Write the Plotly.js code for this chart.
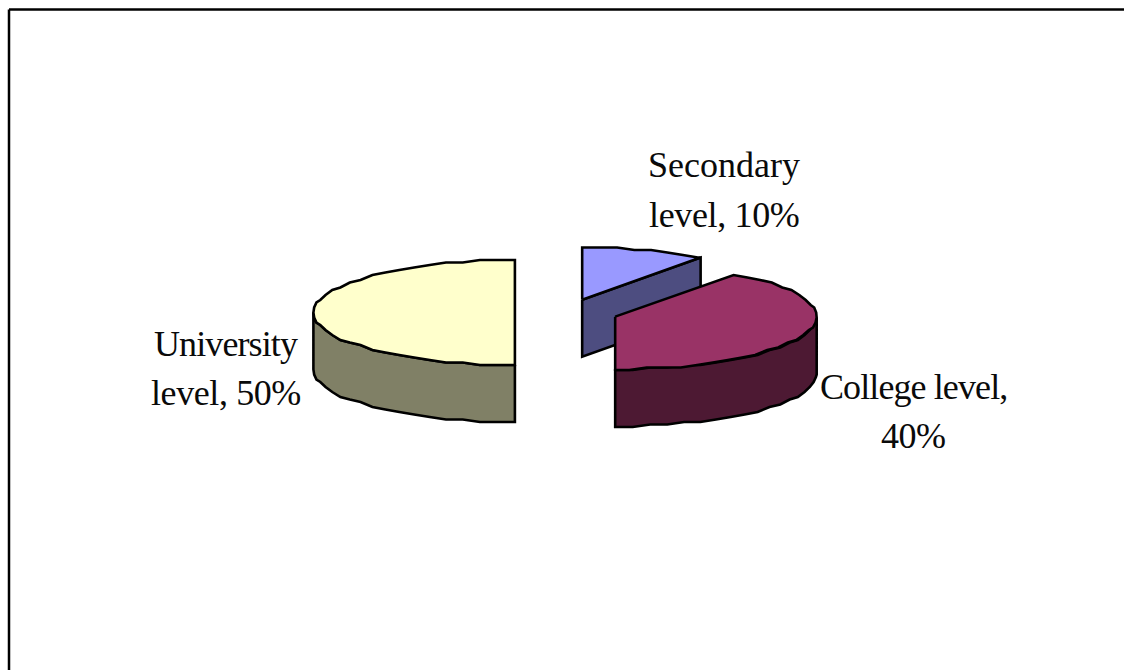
<!DOCTYPE html>
<html>
<head>
<meta charset="utf-8">
<script src="https://cdn.plot.ly/plotly-3.0.1.min.js"></script>
<style>html,body{margin:0;padding:0;background:#fff}#chart{width:1124px;height:670px}</style>
</head>
<body>
<div id="chart"></div>
<script>
// Education level shares, in the order they run clockwise from twelve o'clock.
const categories = ["Secondary level", "College level", "University level"];
const shares = [10, 40, 50];
const labelBreakAfterWord = [1, 2, 1];

const topColors = ["#9999FF", "#993366", "#FFFFCC"];
const sideColors = ["#4D4D80", "#4D1933", "#808066"];
const labelCenters = [[724, 165, 215], [913, 387, 436], [226, 344, 393]];
const labelTracking = [[0, -0.35], [-0.9, -0.5], [-0.9, -0.4]];

// Projection of the tilted, exploded pie onto the page.
const pie = {cx: 566.3, cy: 312.5, rx: 201.5, ry: 52.5, depth: 57, explode: 51.4, stepDeg: 5, gridY: 2.5};
const INK = "#000000";

const rad = d => d * Math.PI / 180;
const total = shares.reduce((a, b) => a + b, 0);

function rimPoint(c, deg, drop) {
  const x = c.x + pie.rx * Math.sin(rad(deg));
  const y = c.y - pie.ry * Math.cos(rad(deg));
  return [x, Math.round(y / pie.gridY) * pie.gridY + drop];
}

function arc(c, from, to, drop) {
  const pts = [];
  for (let d = from; d < to - 1e-6; d += pie.stepDeg) pts.push(rimPoint(c, d, drop));
  pts.push(rimPoint(c, to, drop));
  return pts;
}

function polygon(pts, fill) {
  return {
    type: "scatter", mode: "lines", fill: "toself", fillcolor: fill,
    x: pts.map(p => p[0]), y: pts.map(p => p[1]),
    line: {color: INK, width: 2.6, shape: "linear", simplify: false},
    hoverinfo: "skip", showlegend: false
  };
}

const traces = [];
let start = 0;
shares.forEach((share, i) => {
  const sweep = share / total * 360;
  const end = start + sweep;
  const mid = rad(start + sweep / 2);
  const c = {
    x: pie.cx + pie.explode * Math.sin(mid),
    y: pie.cy - pie.explode * (pie.ry / pie.rx) * Math.cos(mid)
  };
  const apex = [c.x, c.y];
  const apexLow = [c.x, c.y + pie.depth];

  // Sides that face the viewer: the outer wall and, where it shows, the cut faces.
  if (start < 90 && end <= 90) {
    const rim = rimPoint(c, end, 0);
    traces.push(polygon([apex, rim, [rim[0], rim[1] + pie.depth], apexLow, apex], sideColors[i]));
  }
  const wallFrom = Math.max(start, 90), wallTo = Math.min(end, 270);
  if (wallTo > wallFrom) {
    const upper = arc(c, wallFrom, wallTo, 0);
    const lower = arc(c, wallFrom, wallTo, pie.depth).reverse();
    traces.push(polygon(upper.concat(lower, [upper[0]]), sideColors[i]));
  }

  // Top face.
  const rim = arc(c, start, end, 0);
  traces.push(polygon([apex].concat(rim, [apex]), topColors[i]));
  start = end;
});

// Labels are "category, share%", set on two centred lines.
const annotations = [];
categories.forEach((cat, i) => {
  const words = (cat + ", " + shares[i] + "%").split(" ");
  const n = labelBreakAfterWord[i];
  [words.slice(0, n).join(" "), words.slice(n).join(" ")].forEach((line, k) => {
    annotations.push({
      xref: "x", yref: "y", x: labelCenters[i][0], y: labelCenters[i][k + 1],
      text: '<span style="letter-spacing:' + labelTracking[i][k] + 'px">' + line + '</span>',
      showarrow: false, xanchor: "center", yanchor: "middle",
      font: {family: '"Liberation Serif", serif', size: 36, color: "#0A0A0A"}
    });
  });
});

const hidden = {visible: false, fixedrange: true};
const layout = {
  width: 1124, height: 670,
  margin: {l: 0, r: 0, t: 0, b: 0},
  paper_bgcolor: "#FFFFFF", plot_bgcolor: "#FFFFFF",
  showlegend: false,
  xaxis: Object.assign({range: [0, 1124]}, hidden),
  yaxis: Object.assign({range: [670, 0]}, hidden),
  annotations: annotations,
  // Frame: only the top and left edges fall inside the page.
  shapes: [
    {type: "line", xref: "x", yref: "y", x0: 9, y0: 9.5, x1: 1124, y1: 9.5, line: {color: INK, width: 2.5}},
    {type: "line", xref: "x", yref: "y", x0: 9, y0: 9.5, x1: 9, y1: 670, line: {color: INK, width: 2.5}}
  ]
};

Plotly.newPlot("chart", traces, layout, {displayModeBar: false, staticPlot: true});
</script>
</body>
</html>
